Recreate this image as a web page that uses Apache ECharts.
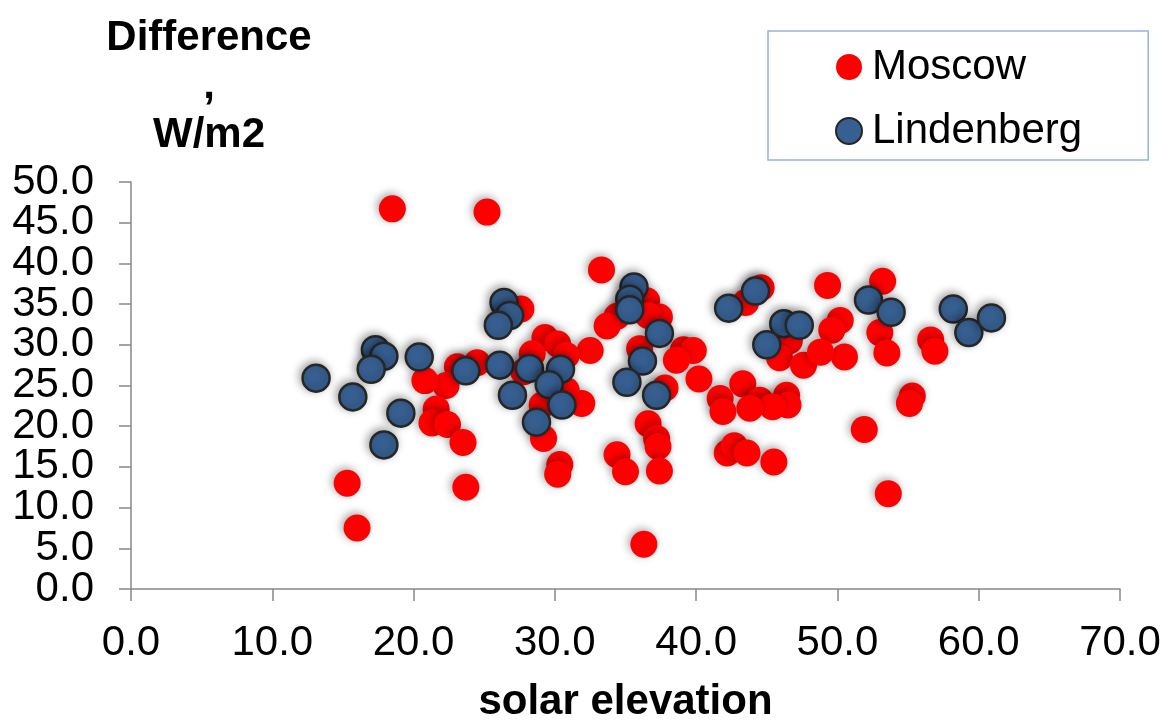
<!DOCTYPE html>
<html>
<head>
<meta charset="utf-8">
<script src="https://cdn.jsdelivr.net/npm/echarts@6/dist/echarts.min.js"></script>
<style>
html,body{margin:0;padding:0;background:#fff;}
#chart{width:1171px;height:728px;}
</style>
</head>
<body>
<div id="chart"></div>
<script>
const seriesNames = ['Moscow', 'Lindenberg'];
const moscow = [
  [18.5,46.7],[25.2,46.3],[33.3,39.2],[15.3,13.0],[16.0,7.5],[23.7,12.5],[36.3,5.5],
  [53.6,11.7],[51.9,19.6],[55.3,23.7],[55.1,22.8],[53.2,37.8],[53.0,31.5],[53.5,29.0],
  [49.3,37.3],[50.2,33.0],[49.6,31.8],[50.5,28.5],[56.6,30.6],[56.9,29.2],[46.6,30.5],
  [45.9,28.4],[47.6,27.5],[48.8,29.1],[44.6,37.0],[43.5,35.2],[43.3,25.2],[44.5,23.2],
  [46.4,23.8],[46.5,22.6],[45.4,22.4],[43.8,22.2],[45.5,15.6],[42.2,16.7],[42.7,17.6],
  [43.6,16.7],[41.7,23.4],[41.9,21.8],[40.2,25.8],[39.1,29.4],[39.8,29.3],[38.6,28.1],
  [37.8,24.7],[36.6,20.3],[37.2,18.5],[37.3,17.5],[37.4,14.5],[34.4,16.5],[35.0,14.4],
  [36.0,29.5],[36.5,35.4],[37.4,33.4],[36.6,33.6],[34.4,33.5],[33.7,32.3],[32.5,29.3],
  [31.9,22.8],[30.35,15.3],[30.2,14.1],[29.3,30.9],[30.2,30.1],[30.8,28.7],[28.4,28.9],
  [27.8,26.7],[29.1,22.6],[29.2,18.5],[30.8,24.4],[27.6,34.4],[24.5,27.8],[23.1,27.3],
  [22.3,25.0],[20.8,25.6],[21.6,22.1],[21.3,20.4],[22.4,20.2],[23.5,18.0]
];
const lindenberg = [
  [13.1,25.9],[15.7,23.6],[17.3,29.4],[17.9,28.6],[17.0,27.0],[19.1,21.6],[17.9,17.7],
  [20.4,28.5],[23.7,26.8],[26.4,35.2],[26.8,33.6],[26.0,32.4],[26.1,27.5],[28.2,27.1],
  [30.4,27.0],[29.6,25.1],[27.0,23.8],[30.5,22.6],[28.7,20.5],[35.6,37.1],[35.3,35.6],
  [35.3,34.3],[37.4,31.4],[36.2,28.0],[35.1,25.4],[37.2,23.8],[42.3,34.5],[44.2,36.6],
  [46.2,32.6],[47.3,32.4],[45.0,30.0],[52.2,35.5],[53.8,34.0],[58.2,34.4],[59.3,31.5],
  [60.9,33.3]
];
const xAxisTitle = 'solar elevation';
const yAxisTitle = 'Difference\n,\nW/m2';

const font = '"Liberation Sans", Arial, sans-serif';
const chart = echarts.init(document.getElementById('chart'), null, {renderer: 'canvas'});
const shadow = {opacity: 1, shadowBlur: 8, shadowColor: 'rgba(0,0,0,0.35)', shadowOffsetX: -2, shadowOffsetY: -2};
const yLabelStyle = {fontFamily: font, fontSize: 42, color: '#000', margin: 37, showMinLabel: true, showMaxLabel: true, hideOverlap: false};
chart.setOption({
  animation: false,
  backgroundColor: '#fff',
  title: {
    text: yAxisTitle,
    left: 209, top: 14, textAlign: 'center', padding: 0,
    textStyle: {fontFamily: font, fontSize: 42, fontWeight: 'bold', color: '#000', lineHeight: 48.5}
  },
  legend: {
    orient: 'vertical', left: 768, top: 31,
    padding: [15, 66, 8, 67],
    itemWidth: 36, itemHeight: 26, itemGap: 22,
    borderColor: '#95b3d7', borderWidth: 1.5,
    textStyle: {fontFamily: font, fontSize: 42, color: '#000', lineHeight: 40},
    data: seriesNames
  },
  grid: {left: 131, right: 51, top: 182, bottom: 136, containLabel: false},
  xAxis: {
    type: 'value', min: 0, max: 70, interval: 10,
    name: xAxisTitle, nameLocation: 'middle', nameGap: 92,
    nameTextStyle: {fontFamily: font, fontSize: 42, fontWeight: 'bold', color: '#000'},
    axisLine: {show: true, onZero: false, lineStyle: {color: '#888', width: 1.5}},
    axisTick: {show: true, length: 12, lineStyle: {color: '#888', width: 1.5}},
    axisLabel: {fontFamily: font, fontSize: 42, color: '#000', margin: 33, showMinLabel: true, showMaxLabel: true, hideOverlap: false, formatter: v => v.toFixed(1)},
    splitLine: {show: false}
  },
  yAxis: [
    {
      type: 'value', min: 0, max: 50, interval: 5, position: 'left', offset: 0,
      axisLine: {show: true, onZero: false, lineStyle: {color: '#888', width: 1.5}},
      axisTick: {show: true, length: 12, lineStyle: {color: '#888', width: 1.5}},
      axisLabel: Object.assign({formatter: v => (Math.round(v) % 10 === 0 ? v.toFixed(1) : '')}, yLabelStyle),
      splitLine: {show: false}
    },
    {
      type: 'value', min: 0, max: 50, interval: 5, position: 'left', offset: 0,
      axisLine: {show: false}, axisTick: {show: false},
      axisLabel: Object.assign({formatter: v => (Math.round(v) % 10 === 5 ? v.toFixed(1) : '')}, yLabelStyle),
      splitLine: {show: false}
    }
  ],
  series: [
    {
      name: seriesNames[0], type: 'scatter', symbol: 'circle', symbolSize: 27, yAxisIndex: 0,
      itemStyle: Object.assign({color: '#ff0000'}, shadow),
      data: moscow
    },
    {
      name: seriesNames[1], type: 'scatter', symbol: 'circle', symbolSize: 27, yAxisIndex: 0,
      itemStyle: Object.assign({color: '#376092', borderColor: '#262626', borderWidth: 2.5}, shadow),
      data: lindenberg
    }
  ]
});
</script>
</body>
</html>
